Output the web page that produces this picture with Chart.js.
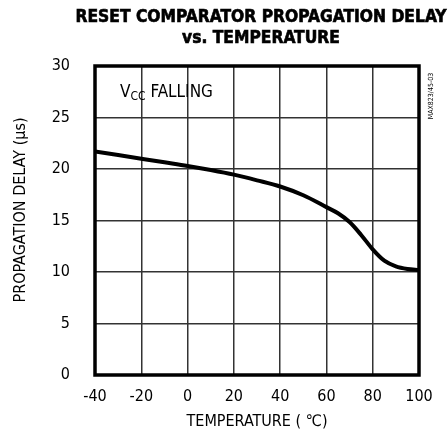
<!DOCTYPE html>
<html><head><meta charset="utf-8">
<script src="https://cdn.jsdelivr.net/npm/chart.js@4/dist/chart.umd.min.js"></script>
<style>html,body{margin:0;padding:0;background:#fff}</style>
</head><body>
<canvas id="c" width="448" height="434" style="width:448px;height:434px;display:block"></canvas>
<script>
const temperatures = [-40,-30,-20,-10,0,10,20,30,40,50,60,65,70,75,80,85,90,95,100];
const delayUs = [21.7,21.35,21.0,20.65,20.3,19.9,19.45,18.9,18.3,17.45,16.3,15.7,14.85,13.6,12.2,11.1,10.55,10.3,10.2];
const xTicks = [-40,-20,0,20,40,60,80,100];
const yTicks = [0,5,10,15,20,25,30];
const titleLines = ['RESET COMPARATOR PROPAGATION DELAY','vs. TEMPERATURE'];
const xTitle = 'TEMPERATURE ( \u2103)';
const yTitle = 'PROPAGATION DELAY (\u00b5s)';
const noteMain = 'V', noteSub = 'CC', noteRest = ' FALLING';
const figId = 'MAX823/45-03';

const FONT = "'Liberation Sans Narrow','DejaVu Sans Condensed',Arial,sans-serif";

const extras = {
  id: 'extras',
  afterDraw(chart) {
    const ctx = chart.ctx, a = chart.chartArea;
    const xs = chart.scales.x, ys = chart.scales.y;
    ctx.save();
    // frame
    ctx.strokeStyle = '#000'; ctx.lineWidth = 3.5;
    ctx.strokeRect(a.left, a.top, a.right - a.left, a.bottom - a.top);
    // title
    ctx.fillStyle = '#000';
    ctx.font = "bold 17px 'DejaVu Sans Condensed','DejaVu Sans',sans-serif";
    ctx.textAlign = 'center'; ctx.textBaseline = 'alphabetic';
    const w = ctx.measureText(titleLines[0]).width;
    const sx = 371 / w;
    const cx = 261;
    [[titleLines[0], 22], [titleLines[1], 43]].forEach(([t, y]) => {
      ctx.save(); ctx.translate(cx, y); ctx.scale(sx, 1);
      ctx.fillText(t, 0, 0);
      ctx.lineWidth = 0.6; ctx.strokeStyle = '#000'; ctx.strokeText(t, 0, 0);
      ctx.restore();
    });
    // y axis title
    ctx.font = "16px " + FONT;
    ctx.fillStyle = '#000';
    ctx.save(); ctx.translate(21, 210); ctx.rotate(-Math.PI/2);
    ctx.textAlign = 'center'; ctx.textBaseline = 'middle';
    ctx.fillText(yTitle, 0, 0); ctx.restore();
    // note
    const nx = xs.getPixelForValue(-29.2), ny = 97;
    ctx.textAlign = 'left'; ctx.textBaseline = 'alphabetic';
    ctx.font = "17px " + FONT;
    ctx.fillText(noteMain, nx, ny);
    let x = nx + ctx.measureText(noteMain).width;
    ctx.font = "12px " + FONT;
    ctx.fillText(noteSub, x, ny + 3);
    x += ctx.measureText(noteSub).width;
    ctx.font = "17px " + FONT;
    ctx.fillText(noteRest, x, ny);
    // figure id
    ctx.font = "7px " + FONT;
    ctx.save(); ctx.translate(431, 96); ctx.rotate(-Math.PI/2);
    ctx.textAlign = 'center'; ctx.textBaseline = 'middle';
    ctx.fillText(figId, 0, 0); ctx.restore();
    ctx.restore();
  }
};

new Chart(document.getElementById('c'), {
  type: 'line',
  data: {
    datasets: [{
      data: temperatures.map((t, i) => ({x: t, y: delayUs[i]})),
      borderColor: '#000', borderWidth: 4, pointRadius: 0,
      cubicInterpolationMode: 'monotone', fill: false
    }]
  },
  options: {
    responsive: false, animation: false, devicePixelRatio: 1,
    layout: {padding: {top: 66, right: 29, bottom: 0, left: 0}},
    plugins: {legend: {display: false}, tooltip: {enabled: false}, title: {display: false}},
    scales: {
      x: {
        type: 'linear', min: -40, max: 100,
        afterBuildTicks: s => { s.ticks = xTicks.map(v => ({value: v})); },
        afterFit: s => { s.height = 434 - 375; },
        ticks: {color: '#000', font: {family: FONT, size: 16}, padding: 12},
        grid: {color: '#333', lineWidth: 1.5, drawTicks: false},
        border: {display: false},
        title: {display: true, text: xTitle, color: '#000', font: {family: FONT, size: 16}, padding: {top: 0, bottom: 3}}
      },
      y: {
        min: 0, max: 30,
        afterBuildTicks: s => { s.ticks = yTicks.map(v => ({value: v})); },
        afterFit: s => { s.width = 95; },
        ticks: {color: '#000', font: {family: FONT, size: 16}, padding: 25},
        grid: {color: '#333', lineWidth: 1.5, drawTicks: false},
        border: {display: false}
      }
    }
  },
  plugins: [extras]
});
</script>
</body></html>
